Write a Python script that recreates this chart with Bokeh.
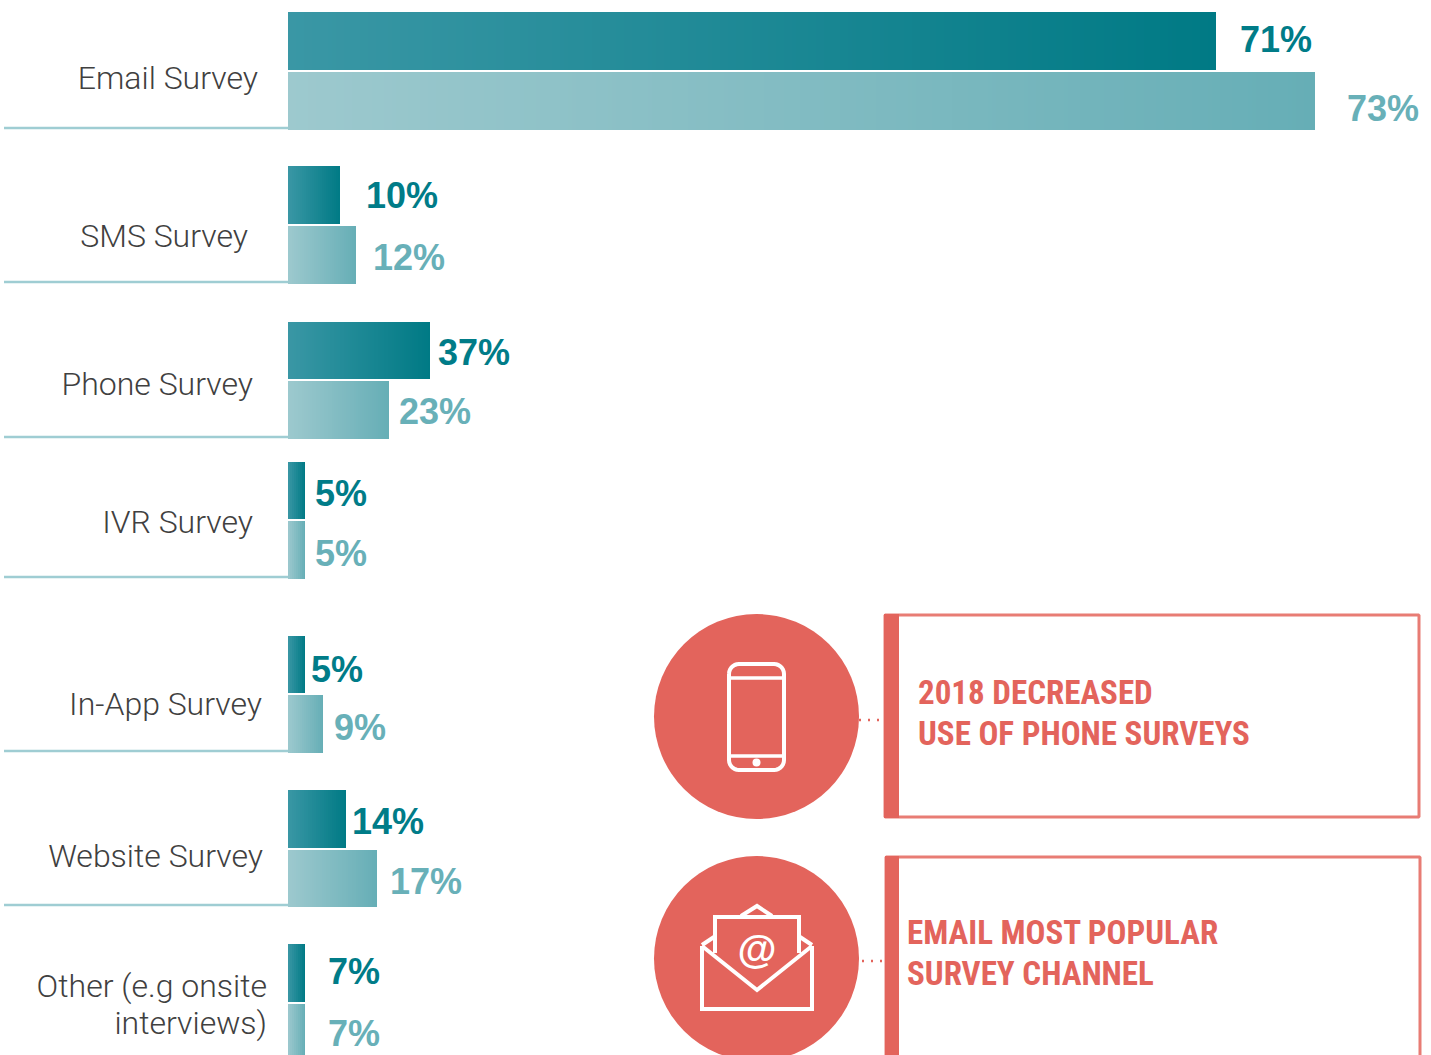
import numpy as np
from bokeh.core.properties import value
from bokeh.embed import file_html
from bokeh.models import ColumnDataSource, Range1d
from bokeh.plotting import figure
from bokeh.resources import INLINE

# ---- values ----
categories = ["Email Survey", "SMS Survey", "Phone Survey", "IVR Survey",
              "In-App Survey", "Website Survey", "Other (e.g onsite\ninterviews)"]
dark_labels = ["71%", "10%", "37%", "5%", "5%", "14%", "7%"]
light_labels = ["73%", "12%", "23%", "5%", "9%", "17%", "7%"]
# drawn bar lengths (the picture's bars are not strictly to scale with their labels)
dark_lengths = [928, 52, 142, 17, 17, 58, 17]
light_lengths = [1027, 68, 101, 17, 35, 89, 17]
callouts = ["2018 DECREASED\nUSE OF PHONE SURVEYS", "EMAIL MOST POPULAR\nSURVEY CHANNEL"]

# ---- layout (page pixels) ----
W, H = 1431, 1055
BASE = 288
dark_top = [12, 166, 322, 462, 636, 790, 944]
dark_bot = [70, 224, 379, 519, 693, 848, 1002]
light_top = [72, 226, 381, 521, 695, 850, 1004]
light_bot = [130, 284, 439, 579, 753, 907, 1062]
rule_y = [128, 282, 437, 577, 751, 905]
cat_right = [258, 248, 253, 253, 262, 263, 267]
cat_base = [78, 236, 384, 522, 704, 856, 986]
dark_lab_x = [1240, 366, 438, 315, 311, 352, 328]
dark_lab_y = [39, 195, 352, 493, 669, 821, 971]
light_lab_x = [1347, 373, 399, 315, 334, 390, 328]
light_lab_y = [108, 257, 411, 553, 727, 881, 1033]

TEAL_D, TEAL_L, RULE = "#007c88", "#68b0b8", "#9fcdd3"
CORAL, CORAL_EDGE, GREY = "#e3645c", "#e87c74", "#404040"
GRAD_D = ((58, 151, 165), (0, 122, 133))
GRAD_L = ((157, 201, 206), (102, 174, 182))

p = figure(width=W, height=H, output_backend="svg", toolbar_location=None,
           x_range=Range1d(-BASE + 0.5, W - BASE + 0.5), y_range=Range1d(H + 0.5, 0.5),
           min_border=0, outline_line_color=None, background_fill_color="white")
p.axis.visible = False
p.grid.visible = False
p.styles = {"position": "absolute", "left": "0px", "top": "0px"}


def strips(lengths, tops, bots, grad):
    c0, c1 = np.array(grad[0], float), np.array(grad[1], float)
    L, R, T, B, C = [], [], [], [], []
    for ln, t, b in zip(lengths, tops, bots):
        step = 4 if ln > 300 else 2
        for s in range(0, ln, step):
            f = (s + step / 2) / ln
            r, g, bl = (c0 + (c1 - c0) * min(f, 1)).round().astype(int)
            # each strip runs to the bar's end, so no seams show between strips
            L.append(s); R.append(ln); T.append(t); B.append(b)
            C.append(f"#{r:02x}{g:02x}{bl:02x}")
    return ColumnDataSource(dict(left=L, right=R, top=T, bottom=B, color=C))


# separators
p.segment(x0=[4 - BASE] * len(rule_y), x1=[0] * len(rule_y), y0=rule_y, y1=rule_y,
          line_color=RULE, line_width=2.5)

# bars: exact extent + gradient strips
for lens, t, b, grad in ((dark_lengths, dark_top, dark_bot, GRAD_D),
                         (light_lengths, light_top, light_bot, GRAD_L)):
    p.quad(left=0, right=lens, top=t, bottom=b, fill_color="#" + "%02x%02x%02x" % grad[1], line_color=None)
    p.quad(left="left", right="right", top="top", bottom="bottom", fill_color="color",
           line_color=None, source=strips(lens, t, b, grad))

# value labels
p.text(x=[v - BASE for v in dark_lab_x], y=dark_lab_y, text=dark_labels,
       text_font=value("Liberation Sans"), text_font_style="bold", text_font_size="36px",
       text_color=TEAL_D, text_baseline="alphabetic")
p.text(x=[v - BASE for v in light_lab_x], y=light_lab_y, text=light_labels,
       text_font=value("Liberation Sans"), text_font_style="bold", text_font_size="36px",
       text_color=TEAL_L, text_baseline="alphabetic")

# category labels
cx, cy, ct = [], [], []
for name, r, yb in zip(categories, cat_right, cat_base):
    for i, line in enumerate(name.split("\n")):
        cx.append(r - BASE); cy.append(yb + i * 37); ct.append(line)
p.text(x=cx, y=cy, text=ct, text_font=value("Roboto Light"), text_font_size="32px",
       text_color=GREY, text_align="right", text_baseline="alphabetic")

# callouts
circ = [(756.5, 716.5), (756.5, 958.5)]
boxes = [(884, 1420, 614, 818), (885, 1421, 856, 1100)]
dots = [(859, 884, 720), (862, 885, 961)]
txt_pos = [(918, 692), (907, 932)]
for (ccx, ccy), (l, r, t, b), (d0, d1, dy), (tx, ty), msg in zip(circ, boxes, dots, txt_pos, callouts):
    p.circle(x=[ccx - BASE], y=[ccy], radius=102.5, fill_color=CORAL, line_color=None)
    p.quad(left=[l - BASE + 1], right=[r - BASE - 1], top=[t + 1], bottom=[b - 1], fill_color="white",
           line_color=CORAL_EDGE, line_width=3)
    p.quad(left=[l - BASE], right=[899 - BASE], top=[t], bottom=[b], fill_color=CORAL, line_color=None)
    p.line(x=[d0 - BASE, d1 - BASE], y=[dy, dy], line_color=CORAL, line_width=2.5, line_dash="2 7")
    for i, line in enumerate(msg.split("\n")):
        p.text(x=[tx - BASE], y=[ty + i * 41], text=[line], text_font=value("Roboto Condensed"),
               text_font_style="bold", text_font_size="33px", text_color=CORAL,
               text_baseline="alphabetic")


def rounded(l, r, t, b, rad):
    a = np.linspace(0, np.pi / 2, 8)
    xs = np.r_[l + rad - rad * np.cos(a), r - rad + rad * np.sin(a), r - rad + rad * np.cos(a), l + rad - rad * np.sin(a)]
    ys = np.r_[t + rad - rad * np.sin(a), t + rad - rad * np.cos(a), b - rad + rad * np.sin(a), b - rad + rad * np.cos(a)]
    return np.r_[xs, xs[0]] - BASE, np.r_[ys, ys[0]]


# phone icon
xs, ys = rounded(729, 784, 664, 770, 10)
p.line(x=xs, y=ys, line_color="white", line_width=4, line_join="round")
p.segment(x0=[729 - BASE] * 2, x1=[784 - BASE] * 2, y0=[678, 756], y1=[678, 756], line_color="white", line_width=3.5)
p.circle(x=[756.5 - BASE], y=[762.5], radius=4, fill_color="white", line_color=None)

# envelope icon
lw = 4
env = [
    ([702, 702, 812, 812], [946, 1009, 1009, 946]),            # body
    ([702, 757, 812], [946, 990, 946]),                        # flap V
    ([702, 714], [945, 937]), ([812, 800], [945, 937]),        # flap back
    ([715, 715, 799, 799], [953, 917, 917, 953]),              # paper
    ([741, 757, 772], [916, 906, 916]),                        # envelope peak
]
for ex, ey in env:
    p.line(x=[v - BASE for v in ex], y=ey, line_color="white", line_width=lw, line_join="miter")
p.text(x=[757 - BASE], y=[949], text=["@"], text_font=value("Liberation Sans"), text_font_style="bold",
       text_font_size="40px", text_color="white", text_align="center", text_baseline="alphabetic")

open("out.html", "w").write(file_html(p, INLINE))
